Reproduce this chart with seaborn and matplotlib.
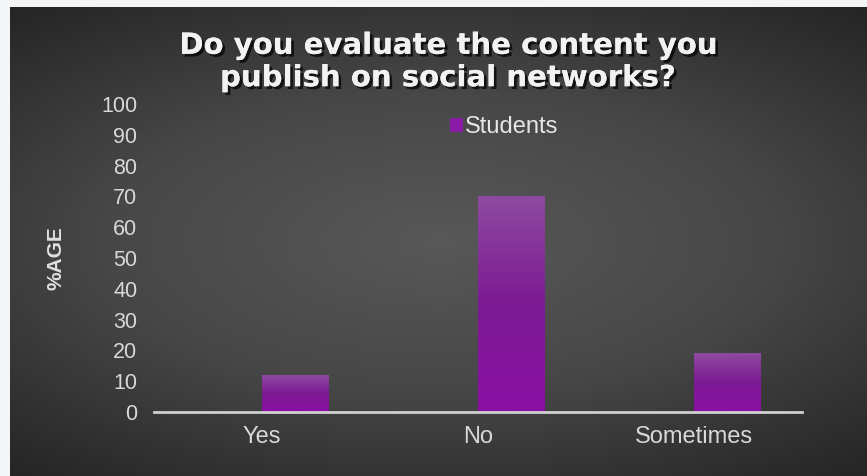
import numpy as np
import pandas as pd
import matplotlib
matplotlib.use("Agg")
import matplotlib.pyplot as plt
import matplotlib.patheffects as pe
from matplotlib.colors import LinearSegmentedColormap
from matplotlib.patches import Patch
import seaborn as sns

categories = ["Yes", "No", "Sometimes"]
students = [12, 70, 19]
series_name = "Students"
# the source chart reserves an empty first slot in each cluster
empty_series = " "
empty_values = [0, 0, 0]
yticks = [0, 10, 20, 30, 40, 50, 60, 70, 80, 90, 100]

df = pd.concat([
    pd.DataFrame({"Response": categories, "Value": empty_values, "Group": empty_series}),
    pd.DataFrame({"Response": categories, "Value": students, "Group": series_name}),
], ignore_index=True)

sns.set_theme(style="white")
plt.rcParams["font.family"] = ["Liberation Sans", "DejaVu Sans"]

W, H = 867, 476
fig = plt.figure(figsize=(W / 100, H / 100), dpi=100)
fig.patch.set_facecolor("#f4f5f7")

# dark radial-gradient panel
bg = fig.add_axes([10 / W, 0, 857 / W, 469 / H])
bg.set_axis_off()
yy, xx = np.mgrid[-1:1:300j, -1:1:500j]
r = np.sqrt((xx * 0.9) ** 2 + (yy * 1.1) ** 2)
img = np.clip(1 - r / 1.4, 0, 1)
cmap_bg = LinearSegmentedColormap.from_list("bg", ["#262626", "#474747", "#585858"])
bg.imshow(img, cmap=cmap_bg, aspect="auto", extent=[0, 1, 0, 1], vmin=0, vmax=1)
bg.set_xlim(0, 1)
bg.set_ylim(0, 1)

ax = fig.add_axes([154 / W, 64 / H, 648 / W, 308 / H])
ax.patch.set_alpha(0)
sns.barplot(data=df, x="Response", y="Value", hue="Group",
            hue_order=[empty_series, series_name],
            palette={empty_series: "#444444", series_name: "#7d1a96"},
            width=0.62, ax=ax, legend=False, linewidth=0)

# gradient fill for bars
bar_cmap = LinearSegmentedColormap.from_list("bar", ["#8a10a3", "#7c1a94", "#8e4aa0"])
grad = np.linspace(0, 1, 100).reshape(-1, 1)
for p in ax.patches:
    x0, y0 = p.get_x(), p.get_y()
    w, h = p.get_width(), p.get_height()
    if not np.isfinite(h) or h <= 0:
        p.set_visible(False)
        continue
    im = ax.imshow(grad, cmap=bar_cmap, aspect="auto", origin="lower",
                   extent=[x0, x0 + w, y0, y0 + h], zorder=p.get_zorder() + 0.1)
    im.set_clip_path(p)

ax.set_xlim(-0.5, 2.5)
ax.set_ylim(0, 100)
ax.set_yticks(yticks)
ax.set_yticklabels([str(t) for t in yticks])
ax.tick_params(axis="both", length=0, colors="#d8d8d8")
ax.tick_params(axis="y", pad=12, labelsize=15.5)
ax.tick_params(axis="x", pad=10, labelsize=17)
for s in ["top", "right", "left"]:
    ax.spines[s].set_visible(False)
ax.spines["bottom"].set_color("#d0d0d0")
ax.spines["bottom"].set_linewidth(2)
ax.spines["bottom"].set_zorder(5)
ax.set_xlabel("")
ax.set_ylabel("%AGE", color="#e0e0e0", fontsize=15, fontweight="bold", labelpad=26)

leg = ax.legend(handles=[Patch(facecolor="#8a1aa8", edgecolor="none", label=series_name)],
                loc="center", bbox_to_anchor=(0.54, 0.925), frameon=False,
                fontsize=17, handlelength=0.55, handleheight=0.55, handletextpad=0.1)
for t in leg.get_texts():
    t.set_color("#e6e6e6")

title = fig.text(448 / W, 1 - 62 / H, "Do you evaluate the content you\npublish on social networks?",
                 ha="center", va="center", fontsize=21, fontweight="bold", color="#f2f2f2",
                 family=["DejaVu Sans"], linespacing=1.2)
title.set_path_effects([pe.withSimplePatchShadow(offset=(2, -2), shadow_rgbFace="#000000", alpha=0.7),
                        pe.Normal()])

fig.savefig("out.png", dpi=100, facecolor=fig.get_facecolor())
